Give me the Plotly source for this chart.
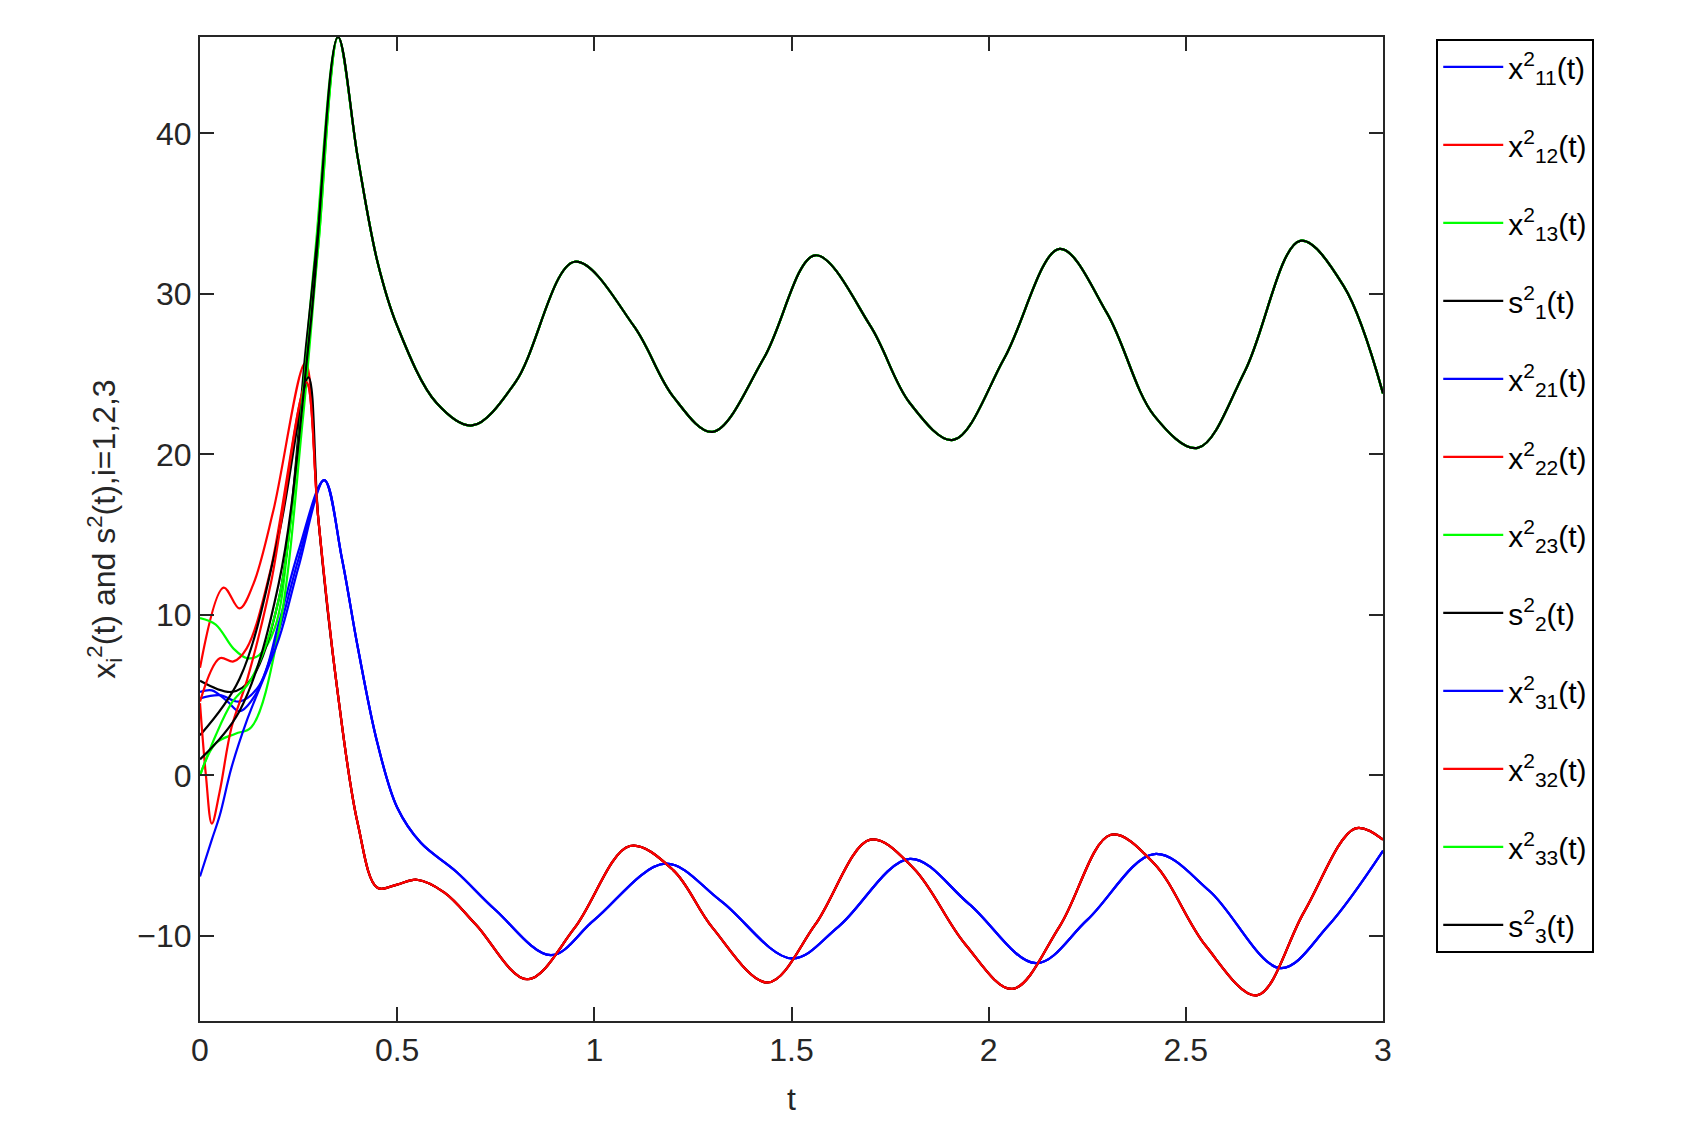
import plotly.graph_objects as go

# common tails
top_t = [0.35, 0.4, 0.45, 0.5, 0.6, 0.69, 0.8, 0.95, 1.1, 1.2, 1.3, 1.43, 1.56, 1.7, 1.8, 1.91, 2.04, 2.18, 2.3, 2.42, 2.53, 2.65, 2.79, 2.9, 3.0]
top_y = [46, 38.5, 32, 28, 23.2, 21.8, 24.5, 32, 28, 23.6, 21.4, 26, 32.4, 28, 23.2, 20.9, 26, 32.8, 28.8, 22.4, 20.4, 25.2, 33.3, 30.5, 23.8]
red_t = [0.3, 0.35, 0.4, 0.45, 0.5, 0.55, 0.62, 0.7, 0.83, 0.95, 1.09, 1.2, 1.3, 1.44, 1.56, 1.7, 1.81, 1.94, 2.06, 2.18, 2.31, 2.42, 2.55, 2.68, 2.8, 2.93, 3.0]
red_y = [16, 5, -3, -7, -6.8, -6.5, -7.3, -9.3, -12.7, -9.5, -4.4, -5.9, -9.5, -12.9, -9.3, -4.0, -5.8, -10.5, -13.3, -9.4, -3.7, -5.5, -10.6, -13.7, -8.5, -3.3, -4.0]
blue_t = [0.315, 0.36, 0.4, 0.45, 0.5, 0.56, 0.65, 0.75, 0.89, 1.0, 1.18, 1.32, 1.5, 1.62, 1.8, 1.95, 2.12, 2.25, 2.42, 2.56, 2.74, 2.86, 3.0]
blue_y = [18.4, 13.5, 8, 2, -2, -4.2, -6, -8.4, -11.2, -9, -5.5, -7.8, -11.4, -9.4, -5.2, -8, -11.7, -9, -4.9, -7.2, -12, -9.4, -4.7]

# heads (t, y) before joining the common tails
h_x11_t = [0, 0.03, 0.07, 0.1, 0.14, 0.2, 0.25]; h_x11_y = [5.2, 5.3, 4.6, 4.0, 5.0, 9.0, 13.5]
h_x21_t = [0, 0.05, 0.1, 0.15, 0.2, 0.25]; h_x21_y = [4.8, 5.0, 4.6, 5.6, 9.5, 14]
h_x31_t = [0, 0.03, 0.05, 0.08, 0.12, 0.2, 0.25]; h_x31_y = [-6.3, -4.0, -2.5, 0.5, 3.5, 8.5, 13]
h_x12_t = [0, 0.06, 0.1, 0.135, 0.186, 0.267]; h_x12_y = [6.7, 11.7, 10.4, 11.9, 16.5, 25.7]
h_x22_t = [0, 0.05, 0.085, 0.118, 0.178, 0.27]; h_x22_y = [4.6, 7.3, 7.1, 7.9, 12.7, 24.4]
h_x32_t = [0, 0.015, 0.03, 0.05, 0.08, 0.12, 0.18, 0.27]; h_x32_y = [4.5, 0, -3, -1, 3, 6, 12, 24.5]
h_s2_t = [0, 0.1, 0.2, 0.275]; h_s2_y = [2.5, 6, 15, 24.8]
h_x13_t = [0, 0.04, 0.085, 0.12, 0.15, 0.19, 0.23, 0.29]; h_x13_y = [9.8, 9.4, 7.9, 7.3, 7.5, 9.2, 16, 32]
h_x23_t = [0, 0.04, 0.09, 0.13, 0.2, 0.26, 0.3]; h_x23_y = [0, 2, 2.6, 3, 9, 22, 33]
h_x33_t = [0, 0.04, 0.08, 0.13, 0.2, 0.27, 0.3]; h_x33_y = [0, 2.5, 4.5, 6, 11, 26, 33]
h_s1_t = [0, 0.08, 0.13, 0.2, 0.27, 0.3]; h_s1_y = [5.9, 5.2, 6, 11, 27, 34]
h_s3_t = [0, 0.1, 0.2, 0.28]; h_s3_y = [1, 4, 12, 28]

series = [
    ("x<sup>2</sup><sub>11</sub>(t)", "#0000ff", h_x11_t, h_x11_y, blue_t, blue_y),
    ("x<sup>2</sup><sub>12</sub>(t)", "#ff0000", h_x12_t, h_x12_y, red_t, red_y),
    ("x<sup>2</sup><sub>13</sub>(t)", "#00ff00", h_x13_t, h_x13_y, top_t, top_y),
    ("s<sup>2</sup><sub>1</sub>(t)", "#000000", h_s1_t, h_s1_y, top_t, top_y),
    ("x<sup>2</sup><sub>21</sub>(t)", "#0000ff", h_x21_t, h_x21_y, blue_t, blue_y),
    ("x<sup>2</sup><sub>22</sub>(t)", "#ff0000", h_x22_t, h_x22_y, red_t, red_y),
    ("x<sup>2</sup><sub>23</sub>(t)", "#00ff00", h_x23_t, h_x23_y, top_t, top_y),
    ("s<sup>2</sup><sub>2</sub>(t)", "#000000", h_s2_t, h_s2_y, red_t, red_y),
    ("x<sup>2</sup><sub>31</sub>(t)", "#0000ff", h_x31_t, h_x31_y, blue_t, blue_y),
    ("x<sup>2</sup><sub>32</sub>(t)", "#ff0000", h_x32_t, h_x32_y, red_t, red_y),
    ("x<sup>2</sup><sub>33</sub>(t)", "#00ff00", h_x33_t, h_x33_y, top_t, top_y),
    ("s<sup>2</sup><sub>3</sub>(t)", "#000000", h_s3_t, h_s3_y, top_t, top_y),
]

fig = go.Figure()
for i, (name, col, ht, hy, tt, ty) in enumerate(series):
    fig.add_trace(go.Scatter(x=ht + tt, y=hy + ty, mode="lines", name=name, legendgroup=f"g{i}",
                             line=dict(color=col, width=2.2, shape="spline", smoothing=1.0)))

font = dict(family="Liberation Sans, Arial", size=32, color="#262626")
axis = dict(showgrid=False, zeroline=False, showline=True, linecolor="#262626", linewidth=2,
            mirror="ticks", ticks="inside", ticklen=14, tickwidth=2, tickcolor="#262626",
            tickfont=font)
fig.update_layout(
    width=1682, height=1146, plot_bgcolor="white", paper_bgcolor="white",
    margin=dict(l=192, r=307, t=29, b=133),
    font=font,
    xaxis=dict(axis, range=[0, 3], tickvals=[0, 0.5, 1, 1.5, 2, 2.5, 3],
               ticktext=["0", "0.5", "1", "1.5", "2", "2.5", "3"],
               title=dict(text="t", font=font, standoff=20)),
    yaxis=dict(axis, range=[-15.3, 46], tickvals=[-10, 0, 10, 20, 30, 40],
               title=dict(text="x<sub>i</sub><sup>2</sup>(t) and s<sup>2</sup>(t),i=1,2,3", font=font, standoff=12)),
    legend=dict(x=1.045, y=0.998, xanchor="left", yanchor="top", bordercolor="#000000",
                borderwidth=2, bgcolor="white", font=dict(family="Liberation Sans, Arial", size=30, color="#000000"),
                tracegroupgap=36, itemwidth=60),
)
fig.write_html("out.html")
